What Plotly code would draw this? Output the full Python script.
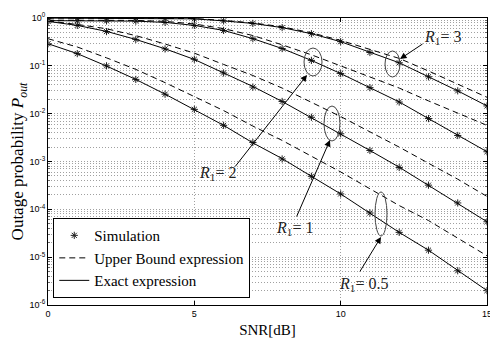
import plotly.graph_objects as go

# SNR grid (dB)
snr_db = list(range(16))

# outage probability, R1 = 0.5
exact_r05 = [0.29, 0.18, 0.099, 0.052, 0.0256, 0.0122, 0.0057, 0.00245, 0.00115, 4.9e-4,
             2.1e-4, 8.3e-5, 3.3e-5, 1.4e-5, 5.4e-6, 2.0e-6]
bound_r05 = [0.369, 0.248, 0.147, 0.0843, 0.0445, 0.023, 0.0116, 0.0055, 0.00276, 0.00129,
             6.05e-4, 2.69e-4, 1.2e-4, 5.83e-5, 2.52e-5, 1.07e-5]
sim_r05 = [0.29, 0.18, 0.10, 0.052, 0.0255, 0.0123, 0.0057, 0.0025, 0.00113, 4.9e-4,
           2.1e-4, 8.4e-5, 3.3e-5, 1.4e-5, 5.2e-6, 2.0e-6]

# R1 = 1
exact_r1 = [0.85, 0.70, 0.525, 0.356, 0.227, 0.136, 0.071, 0.037, 0.018, 0.0083,
            0.0038, 0.0017, 7.6e-4, 3.2e-4, 1.35e-4, 5.5e-5]
bound_r1 = [0.869, 0.733, 0.596, 0.428, 0.286, 0.184, 0.107, 0.0628, 0.0343, 0.0173,
            0.0087, 0.00417, 0.0020, 9.2e-4, 4.27e-4, 1.86e-4]
sim_r1 = [0.85, 0.70, 0.52, 0.357, 0.226, 0.137, 0.071, 0.036, 0.018, 0.0084,
          0.0038, 0.0017, 7.5e-4, 3.2e-4, 1.36e-4, 5.5e-5]

# R1 = 2
exact_r2 = [0.88, 0.88, 0.87, 0.86, 0.81, 0.70, 0.55, 0.37, 0.23, 0.13,
            0.069, 0.035, 0.0176, 0.0079, 0.0035, 0.0016]
bound_r2 = [0.90, 0.90, 0.90, 0.89, 0.85, 0.75, 0.60, 0.43, 0.275, 0.17,
            0.0998, 0.058, 0.0343, 0.0185, 0.0101, 0.0057]
sim_r2 = [0.88, 0.88, 0.87, 0.86, 0.81, 0.70, 0.55, 0.37, 0.23, 0.13,
          0.069, 0.035, 0.0175, 0.0079, 0.0035, 0.0016]

# R1 = 3
exact_r3 = [0.995, 0.995, 0.994, 0.99, 0.98, 0.96, 0.87, 0.77, 0.63, 0.47,
            0.32, 0.19, 0.116, 0.059, 0.030, 0.0145]
bound_r3 = [1.0, 1.0, 1.0, 1.0, 0.99, 0.975, 0.89, 0.79, 0.655, 0.49,
            0.34, 0.22, 0.143, 0.078, 0.041, 0.022]
sim_r3 = [0.995, 0.995, 0.994, 0.99, 0.98, 0.96, 0.87, 0.77, 0.63, 0.47,
          0.32, 0.19, 0.116, 0.059, 0.030, 0.0145]

x_ticks = [0, 5, 10, 15]
y_ticks = [1, 1e-1, 1e-2, 1e-3, 1e-4, 1e-5, 1e-6]
y_ticktext = ["10<sup>0</sup>", "10<sup>-1</sup>", "10<sup>-2</sup>", "10<sup>-3</sup>",
              "10<sup>-4</sup>", "10<sup>-5</sup>", "10<sup>-6</sup>"]

curves = [
    (sim_r05, bound_r05, exact_r05),
    (sim_r1, bound_r1, exact_r1),
    (sim_r2, bound_r2, exact_r2),
    (sim_r3, bound_r3, exact_r3),
]

SERIF = "Liberation Serif"
SANS = "Liberation Sans"
GRID = "#a0a0a0"

fig = go.Figure()
for i, (sim, bound, exact) in enumerate(curves):
    first = i == 0
    fig.add_trace(go.Scatter(
        x=snr_db, y=sim, mode="markers", name="Simulation",
        legendgroup="sim", showlegend=first,
        marker=dict(symbol="asterisk-open", size=6, color="#222",
                    line=dict(color="#222", width=1)),
    ))
    fig.add_trace(go.Scatter(
        x=snr_db, y=bound, mode="lines", name="Upper Bound expression",
        legendgroup="bound", showlegend=first,
        line=dict(color="black", width=1, dash="6px,4px"),
    ))
    fig.add_trace(go.Scatter(
        x=snr_db, y=exact, mode="lines", name="Exact expression",
        legendgroup="exact", showlegend=first,
        line=dict(color="black", width=1),
    ))

# reference plot area in pixels: x 48..487, y 18..305
def px(x):
    return (x - 48) / 439.0

def py(y):
    return (305 - y) / 287.0

# ellipses around curve groups (pixel boxes)
ellipses = [
    (385, 400, 51, 77),
    (304, 322, 48, 76),
    (324, 340, 106, 141),
    (375, 387, 192, 236),
]
for x0, x1, y0, y1 in ellipses:
    fig.add_shape(type="circle", xref="paper", yref="paper",
                  x0=px(x0), x1=px(x1), y0=py(y1), y1=py(y0),
                  line=dict(color="#444", width=1))

# arrows: head pixel, tail offset
arrows = [
    (400, 59, 24, -16),
    (307, 75, -73, 93),
    (330, 140, -34, 78),
    (381, 237, -22, 36),
]
for hx, hy, ax, ay in arrows:
    fig.add_annotation(x=px(hx), y=py(hy), xref="paper", yref="paper",
                       text="", showarrow=True, ax=ax, ay=ay,
                       arrowhead=2, arrowsize=1.3, arrowwidth=1, arrowcolor="black")

labels = [
    ("3", 442, 37),
    ("2", 217, 173),
    ("1", 294, 228),
    ("0.5", 363, 284),
]
for r, lx, ly in labels:
    fig.add_annotation(x=px(lx), y=py(ly), xref="paper", yref="paper",
                       xanchor="center", yanchor="middle",
                       text="<i>R</i><sub>1</sub>= " + r, showarrow=False,
                       font=dict(family=SERIF, size=16, color="#222"))

# the page body has an 8px margin, so the figure is 8px smaller each way
fig.update_layout(
    width=490, height=338,
    margin=dict(l=40, r=11, t=10, b=41),
    paper_bgcolor="white", plot_bgcolor="white",
    showlegend=True,
    legend=dict(x=0.012, y=0.024, xanchor="left", yanchor="bottom",
                bgcolor="white", bordercolor="black", borderwidth=1,
                font=dict(family=SERIF, size=15, color="black"),
                itemwidth=30, tracegroupgap=0),
    xaxis=dict(
        range=[0, 15], tickvals=x_ticks, automargin=False,
        ticks="inside", ticklen=4, tickcolor="black",
        showline=True, linecolor="black", linewidth=1, mirror="ticks",
        showgrid=True, gridcolor=GRID, griddash="1px,2px", gridwidth=1,
        zeroline=False,
        tickfont=dict(family=SANS, size=9, color="black"),
        title=dict(text="SNR[dB]", font=dict(family=SERIF, size=15, color="black"), standoff=6),
    ),
    yaxis=dict(
        type="log", range=[-6, 0], tickvals=y_ticks, ticktext=y_ticktext, automargin=False,
        ticks="inside", ticklen=4, tickcolor="black",
        showline=True, linecolor="black", linewidth=1, mirror="ticks",
        showgrid=True, gridcolor=GRID, griddash="1px,2px", gridwidth=1,
        zeroline=False,
        minor=dict(dtick="D1", ticks="inside", ticklen=2, tickcolor="#666",
                   showgrid=True, gridcolor=GRID, griddash="1px,2px", gridwidth=1),
        tickfont=dict(family=SANS, size=9, color="black"),
        title=dict(text="Outage probability <i>P</i><sub><i>out</i></sub>",
                   font=dict(family=SERIF, size=17, color="black"), standoff=11),
    ),
)

fig.write_html("out.html")
